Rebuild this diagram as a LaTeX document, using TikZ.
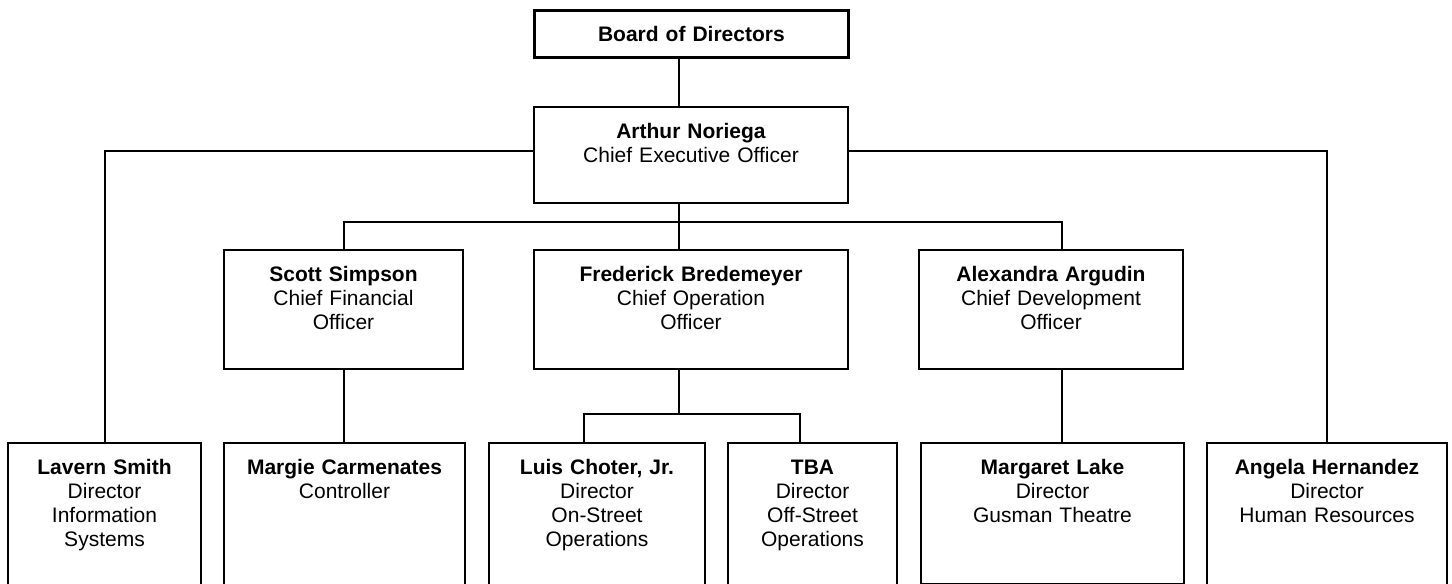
\documentclass[tikz,border=0pt]{standalone}
\usepackage{fontspec}
\setmainfont{Liberation Sans}
\usetikzlibrary{positioning,calc}
\tikzset{
    orgbox/.style 2 args = {rectangle, draw=black, line width=1pt, inner sep=0pt, anchor=north west,
                    align=center, text width=#1, text height=15.5pt, text depth=#2,
                    font=\fontsize{10.5}{12}\selectfont},
    link/.style = {draw=black, line width=1pt}
}
\begin{document}
\begin{tikzpicture}[x=0.5pt, y=-0.5pt,
        boardbox/.style = {orgbox={157pt}{8pt}, line width=1.4pt},
        ceobox/.style   = {orgbox={157pt}{32.5pt}},
        chiefbox/.style = {orgbox={#1}{44pt}},
        dirbox/.style   = {orgbox={#1}{59.5pt}}
    ]
        \useasboundingbox (0,0) rectangle (1452,584);
        \clip (0,0) rectangle (1452,584);

        % Top Blocks
        \node[boardbox] (board) at (533, 9) {\textbf{Board of Directors}};
        \node[ceobox] (ceo) at (533, 106) {\textbf{Arthur Noriega}\\ Chief Executive Officer};

        % Chief Officers
        \node[chiefbox=119.5pt] (scott) at (223, 249) {\textbf{Scott Simpson}\\ Chief Financial\\ Officer};
        \node[chiefbox=157pt] (fred) at (533, 249) {\textbf{Frederick Bredemeyer}\\ Chief Operation\\ Officer};
        \node[chiefbox=132pt] (alexandra) at (918, 249) {\textbf{Alexandra Argudin}\\ Chief Development\\ Officer};

        % Directors
        \node[dirbox=96.5pt] (lavern) at (7, 442) {\textbf{Lavern Smith}\\ Director\\ Information\\ Systems};
        \node[dirbox=120.5pt] (margie) at (223, 442) {\textbf{Margie Carmenates}\\ Controller};
        \node[dirbox=108pt] (luis) at (488, 442) {\textbf{Luis Choter, Jr.}\\ Director\\ On-Street\\ Operations};
        \node[dirbox=84.5pt] (tba) at (727, 442) {\textbf{TBA}\\ Director\\ Off-Street\\ Operations};
        \node[orgbox={131.5pt}{55pt}] (margaret) at (920, 442) {\textbf{Margaret Lake}\\ Director\\ Gusman Theatre};
        \node[dirbox=120pt] (angela) at (1206, 442) {\textbf{Angela Hernandez}\\ Director\\ Human Resources};

        % Axes of the connectors
        \coordinate (topaxis) at (679, 0);
        \coordinate (devaxis) at (1062, 0);
        \coordinate (onaxis)  at (584, 0);
        \coordinate (offaxis) at (800, 0);
        \coordinate (sidebus) at (0, 151);
        \coordinate (bus)     at (0, 222);
        \coordinate (opsbus)  at (0, 414);

        % Board to CEO
        \draw[link] (board.south -| topaxis) -- (ceo.north -| topaxis);

        % CEO to side directors
        \draw[link] (ceo.west |- sidebus) -| (lavern.north);
        \draw[link] (ceo.east |- sidebus) -| (angela.north);

        % CEO to chiefs
        \draw[link] (ceo.south -| topaxis) -- (fred.north -| topaxis);
        \draw[link] (scott.north) |- (bus -| devaxis) -- (alexandra.north -| devaxis);

        % Chiefs to directors
        \draw[link] (scott.south) -- (scott.south |- margie.north);
        \draw[link] (fred.south -| topaxis) -- (opsbus -| topaxis);
        \draw[link] (luis.north -| onaxis) |- (opsbus -| offaxis) -- (tba.north -| offaxis);
        \draw[link] (alexandra.south -| devaxis) -- (margaret.north -| devaxis);

    \end{tikzpicture}
\end{document}
